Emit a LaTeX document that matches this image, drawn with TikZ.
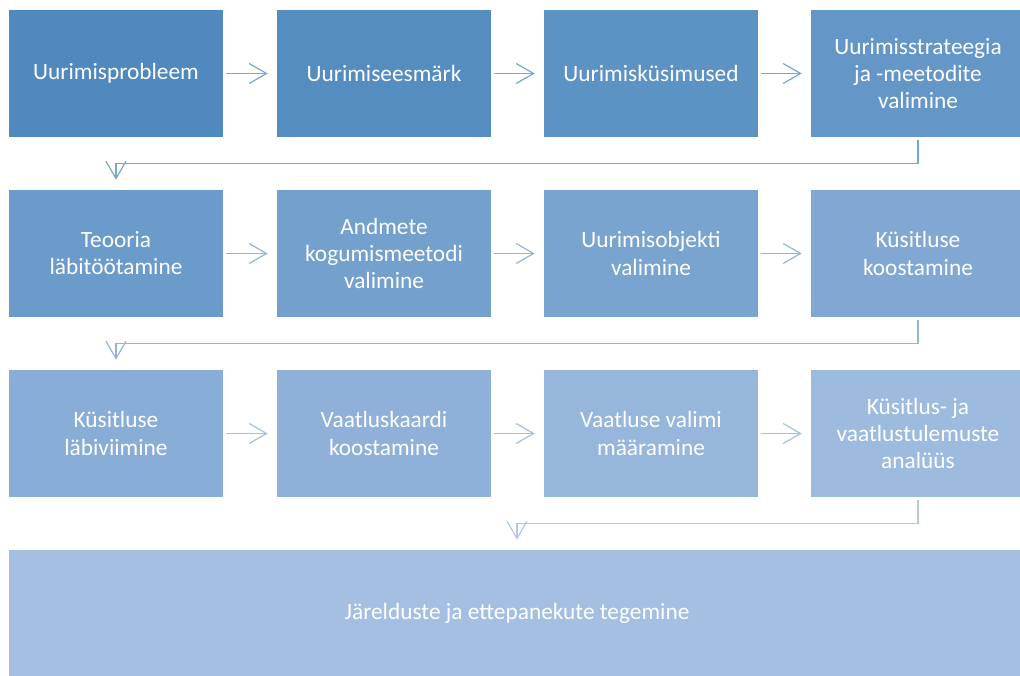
\documentclass[tikz,border=0pt]{standalone}
\usepackage{fontspec}
\setmainfont{Carlito}
\usetikzlibrary{arrows.meta}

\definecolor{boxstart}{RGB}{79,137,190}
\definecolor{boxend}{RGB}{164,191,226}

\tikzset{
  stage/.style={draw=none, fill=#1, text=white, minimum width=160.5pt,
    minimum height=95.25pt, inner sep=0pt, align=center,
    font=\fontsize{17.5}{20.3}\selectfont},
  arr/.style={draw=#1, line width=0.9pt, shorten <=2.25pt, shorten >=6.75pt,
    -{Straight Barb[length=13pt,width=15pt,line width=0.9pt]}}
}

\begin{document}
\begin{tikzpicture}[x=0.75pt,y=-0.75pt]
  \useasboundingbox (0,0) rectangle (1020,675);
  \clip (0,0) rectangle (1020,675);
  % first row
  \node[stage=boxend!0!boxstart]  (prob)  at (116,73.5) {Uurimisprobleem};
  \node[stage=boxend!8!boxstart]  (eesm)  at (384,73.5) {Uurimiseesmärk};
  \node[stage=boxend!17!boxstart] (kys)   at (651,73.5) {Uurimisküsimused};
  \node[stage=boxend!25!boxstart] (strat) at (918,73.5) {Uurimisstrateegia\\ja -meetodite\\valimine};
  % second row
  \node[stage=boxend!33!boxstart] (teoor) at (116,253.5) {Teooria\\läbitöötamine};
  \node[stage=boxend!42!boxstart] (andm)  at (384,253.5) {Andmete\\kogumismeetodi\\valimine};
  \node[stage=boxend!50!boxstart] (obj)   at (651,253.5) {Uurimisobjekti\\valimine};
  \node[stage=boxend!58!boxstart] (koost) at (918,253.5) {Küsitluse\\koostamine};
  % third row
  \node[stage=boxend!67!boxstart] (labiv) at (116,433.5) {Küsitluse\\läbiviimine};
  \node[stage=boxend!75!boxstart] (kaart) at (384,433.5) {Vaatluskaardi\\koostamine};
  \node[stage=boxend!83!boxstart] (valim) at (651,433.5) {Vaatluse valimi\\määramine};
  \node[stage=boxend!92!boxstart] (anal)  at (918,433.5) {Küsitlus- ja\\vaatlustulemuste\\analüüs};
  % last row
  \node[stage=boxend, minimum width=762pt] (jarel) at (517,613.5) {Järelduste ja ettepanekute tegemine};

  \draw[arr=boxstart!75!white] (prob) -- (eesm);
  \draw[arr=boxstart!75!white] (eesm) -- (kys);
  \draw[arr=boxstart!75!white] (kys) -- (strat);
  \draw[arr=boxstart!75!white, shorten >=7.5pt] (strat.south) -- ++(0,26) -| (teoor.north);
  \draw[arr=boxend!40!boxstart!75!white] (teoor) -- (andm);
  \draw[arr=boxend!40!boxstart!75!white] (andm) -- (obj);
  \draw[arr=boxend!40!boxstart!75!white] (obj) -- (koost);
  \draw[arr=boxend!40!boxstart!75!white, shorten >=7.5pt] (koost.south) -- ++(0,26) -| (labiv.north);
  \draw[arr=boxend!75!boxstart!80!white] (labiv) -- (kaart);
  \draw[arr=boxend!75!boxstart!80!white] (kaart) -- (valim);
  \draw[arr=boxend!75!boxstart!80!white] (valim) -- (anal);
  \draw[arr=boxend!85!white, shorten >=7.5pt] (anal.south) -- ++(0,26) -| (jarel.north);
\end{tikzpicture}
\end{document}
